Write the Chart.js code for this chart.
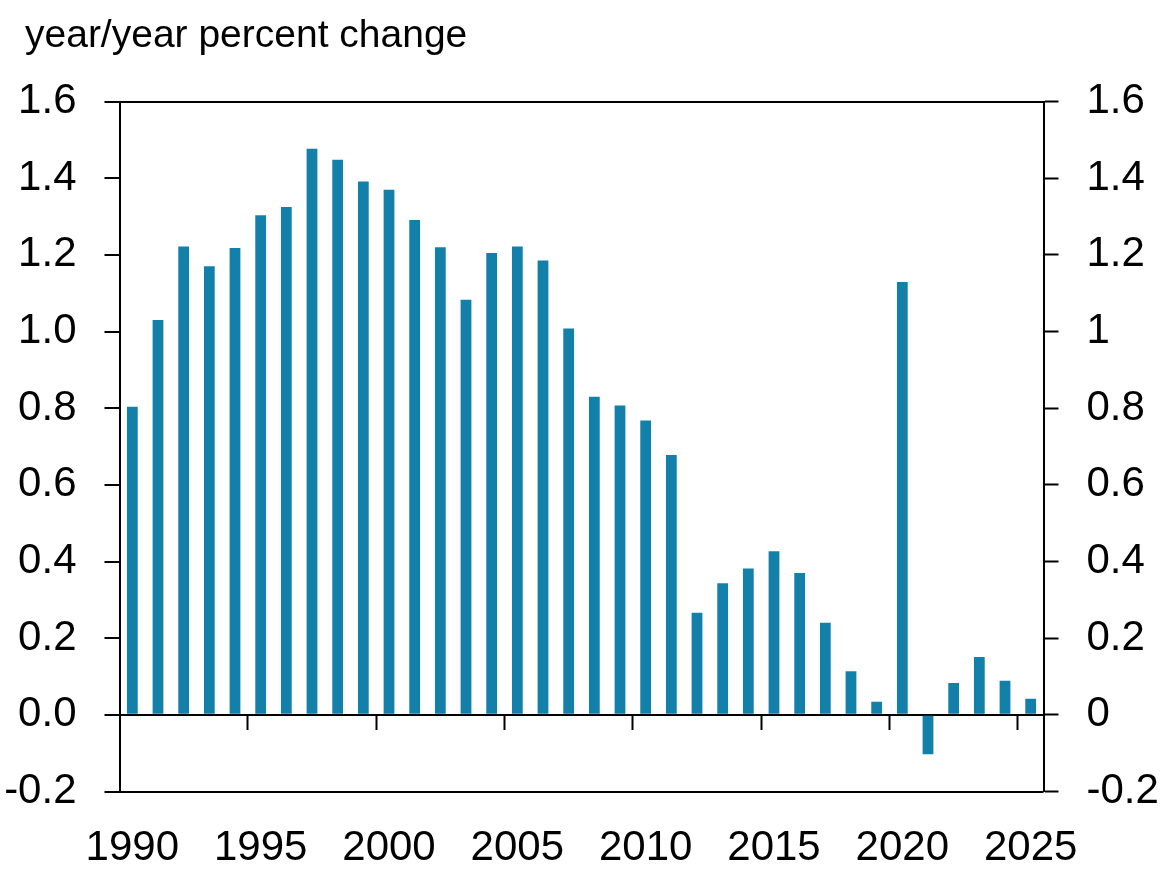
<!DOCTYPE html>
<html>
<head>
<meta charset="utf-8">
<script src="https://cdn.jsdelivr.net/npm/chart.js@4"></script>
<style>
  html, body { margin: 0; padding: 0; background: #fff; }
  #wrap { width: 1165px; height: 873px; position: relative; }
  #chartTitle {
    position: absolute;
    left: 25px;
    top: 14px;
    font: 39px/39px "Liberation Sans", Arial, sans-serif;
    color: #000;
    white-space: nowrap;
  }
</style>
</head>
<body>
<div id="wrap">
  <div id="chartTitle">year/year percent change</div>
  <canvas id="growthChart"></canvas>
</div>
<script>
// years shown on the x axis
const years = [
  "1990", "1991", "1992", "1993", "1994", "1995", "1996", "1997", "1998", "1999",
  "2000", "2001", "2002", "2003", "2004", "2005", "2006", "2007", "2008", "2009",
  "2010", "2011", "2012", "2013", "2014", "2015", "2016", "2017", "2018", "2019",
  "2020", "2021", "2022", "2023", "2024", "2025",
];

// year/year percent change
const pctChange = [
  0.804, 1.030, 1.222, 1.170, 1.218, 1.303, 1.325, 1.477, 1.448, 1.391,
  1.370, 1.291, 1.220, 1.083, 1.205, 1.222, 1.185, 1.008, 0.830, 0.807,
  0.768, 0.678, 0.266, 0.343, 0.382, 0.427, 0.370, 0.240, 0.114, 0.034,
  1.129, -0.103, 0.083, 0.151, 0.089, 0.042,
];

const labeledYears = ["1990", "1995", "2000", "2005", "2010", "2015", "2020", "2025"];
const yMin = -0.2;
const yMax = 1.6;
const yStep = 0.2;
const blackLines = [1.6, 0, -0.2];

const tickFont = { family: "'Liberation Sans', Arial, sans-serif", size: 42 };
const isBlackLine = (v) => blackLines.some((b) => Math.abs(b - v) < 1e-9);

const ctx = document.getElementById("growthChart");

new Chart(ctx, {
  type: "bar",
  data: {
    labels: years,
    datasets: [
      {
        label: "year/year percent change",
        data: pctChange,
        backgroundColor: "#1380aa",
        barPercentage: 0.42,
        categoryPercentage: 1.0,
      },
    ],
  },
  options: {
    responsive: true,
    maintainAspectRatio: false,
    animation: false,
    layout: { padding: { left: 0, right: 0, top: 101.5, bottom: 0 } },
    plugins: {
      legend: { display: false },
      tooltip: { enabled: false },
    },
    scales: {
      x: {
        type: "category",
        offset: true,
        grid: { display: false, offset: true, drawTicks: false },
        border: { display: false },
        ticks: {
          autoSkip: false,
          maxRotation: 0,
          color: "#000",
          font: tickFont,
          padding: 32,
          callback: function (val, i) {
            const lbl = years[i];
            return labeledYears.includes(lbl) ? lbl : "";
          },
        },
        afterFit: (scale) => { scale.height = 81.5; },
      },
      xZero: {
        type: "category",
        axis: "x",
        position: { y: 0 },
        offset: true,
        grid: {
          offset: true,
          drawOnChartArea: false,
          drawTicks: true,
          tickLength: 15,
          tickWidth: 2,
          color: (c) => (c.index > 0 && c.index < years.length && c.index % 5 === 0 ? "#000" : "rgba(0,0,0,0)"),
        },
        border: { display: false },
        ticks: { display: false },
        afterFit: (scale) => { scale.height = 0; },
      },
      y: {
        position: "left",
        min: yMin,
        max: yMax,
        ticks: {
          stepSize: yStep,
          color: "#000",
          font: tickFont,
          padding: 28,
          callback: (v) => v.toFixed(1),
        },
        grid: {
          drawOnChartArea: true,
          tickLength: 15,
          lineWidth: 2,
          tickWidth: 2,
          tickColor: "#000",
          color: (c) => (c.tick && isBlackLine(c.tick.value) ? "#000" : "rgba(0,0,0,0)"),
        },
        border: { display: true, color: "#000", width: 2 },
        afterFit: (scale) => { scale.width = 119.5; },
      },
      yRight: {
        position: "right",
        min: yMin,
        max: yMax,
        ticks: {
          stepSize: yStep,
          color: "#000",
          font: tickFont,
          padding: 28,
          callback: (v) => String(Number(v.toFixed(1))),
        },
        grid: {
          drawOnChartArea: false,
          tickLength: 15,
          tickWidth: 2,
          tickColor: "#000",
        },
        border: { display: true, color: "#000", width: 2 },
        afterFit: (scale) => { scale.width = 121.5; },
      },
    },
  },
});
</script>
</body>
</html>
